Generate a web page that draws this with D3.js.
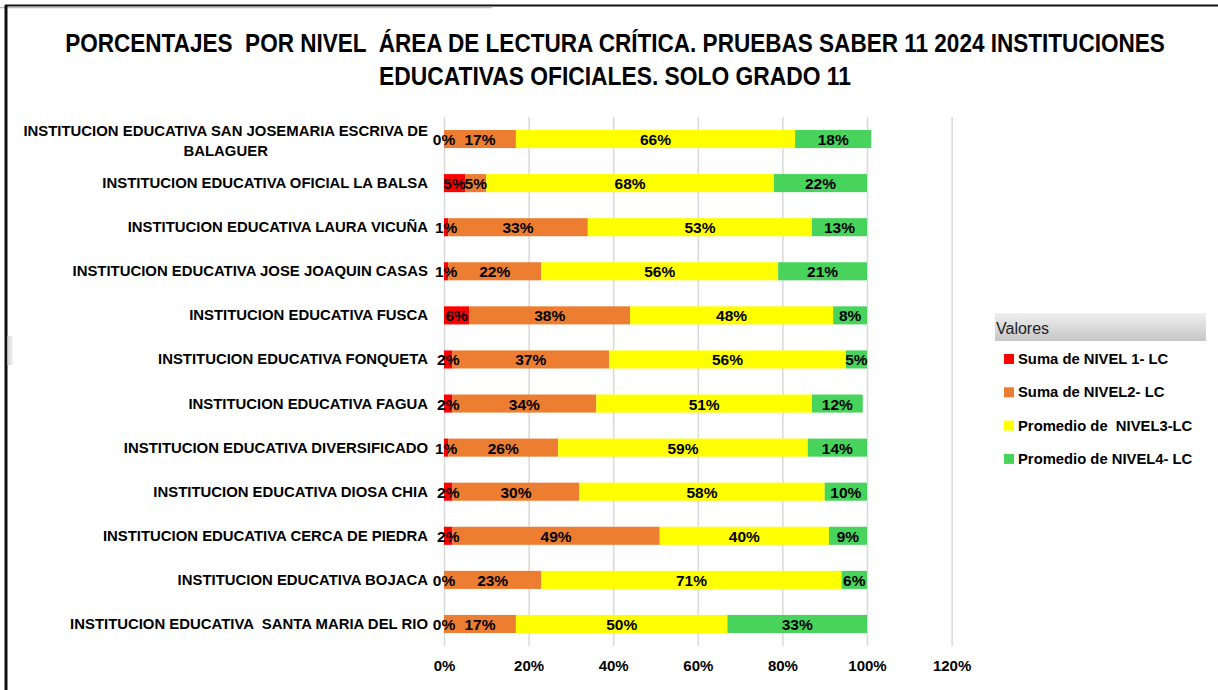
<!DOCTYPE html>
<html lang="es">
<head>
<meta charset="utf-8">
<title>Porcentajes por nivel - Lectura critica</title>
<style>
  body { margin: 0; background: #fff; }
  text { white-space: pre; }
  .title { font-family: "Liberation Sans", Arial, sans-serif; font-weight: bold; font-size: 25px; fill: #000; }
  .cat { font-family: "Liberation Sans", Arial, sans-serif; font-weight: bold; font-size: 14.9px; fill: #000; }
  .val { font-family: "Liberation Sans", Arial, sans-serif; font-weight: bold; font-size: 15.5px; fill: #000; }
  .tick text { font-family: "Liberation Sans", Arial, sans-serif; font-weight: bold; font-size: 15px; fill: #000; }
  .leg { font-family: "Liberation Sans", Arial, sans-serif; font-weight: bold; font-size: 14.8px; fill: #000; }
</style>
</head>
<body>
<div id="chart"></div>
<script src="https://cdnjs.cloudflare.com/ajax/libs/d3/7.8.5/d3.min.js"></script>
<script>
var categories = [
  "INSTITUCION EDUCATIVA SAN JOSEMARIA ESCRIVA DE|BALAGUER",
  "INSTITUCION EDUCATIVA OFICIAL LA BALSA",
  "INSTITUCION EDUCATIVA LAURA VICUÑA",
  "INSTITUCION EDUCATIVA JOSE JOAQUIN CASAS",
  "INSTITUCION EDUCATIVA FUSCA",
  "INSTITUCION EDUCATIVA FONQUETA",
  "INSTITUCION EDUCATIVA FAGUA",
  "INSTITUCION EDUCATIVA DIVERSIFICADO",
  "INSTITUCION EDUCATIVA DIOSA CHIA",
  "INSTITUCION EDUCATIVA CERCA DE PIEDRA",
  "INSTITUCION EDUCATIVA BOJACA",
  "INSTITUCION EDUCATIVA  SANTA MARIA DEL RIO"
];
var nivel1 = [0, 5, 1, 1, 6, 2, 2, 1, 2, 2, 0, 0];
var nivel2 = [17, 5, 33, 22, 38, 37, 34, 26, 30, 49, 23, 17];
var nivel3 = [66, 68, 53, 56, 48, 56, 51, 59, 58, 40, 71, 50];
var nivel4 = [18, 22, 13, 21, 8, 5, 12, 14, 10, 9, 6, 33];
var seriesNames = ["Suma de NIVEL 1- LC", "Suma de NIVEL2- LC", "Promedio de  NIVEL3-LC", "Promedio de NIVEL4- LC"];
var seriesColors = ["#ff0000", "#ed7d31", "#ffff00", "#48d35c"];
var xTicks = [0, 20, 40, 60, 80, 100, 120];
var titleLines = [
  "PORCENTAJES  POR NIVEL  ÁREA DE LECTURA CRÍTICA. PRUEBAS SABER 11 2024 INSTITUCIONES",
  "EDUCATIVAS OFICIALES. SOLO GRADO 11"
];

var W = 1218, H = 690;
var svg = d3.select("#chart").append("svg")
  .attr("width", W).attr("height", H);
var defs = svg.append("defs");

// frame
svg.append("line").attr("x1", 5).attr("x2", W).attr("y1", 5.5).attr("y2", 5.5)
  .attr("stroke", "#111").attr("stroke-width", 2);
svg.append("line").attr("x1", 0).attr("x2", 492).attr("y1", 7.5).attr("y2", 7.5)
  .attr("stroke", "#bbb").attr("stroke-width", 1.5);
svg.append("line").attr("x1", 6).attr("x2", 6).attr("y1", 5).attr("y2", H)
  .attr("stroke", "#111").attr("stroke-width", 3);
var sideGrad = defs.append("linearGradient").attr("id", "side")
  .attr("x1", 0).attr("x2", 1).attr("y1", 0).attr("y2", 0);
sideGrad.append("stop").attr("offset", "0%").attr("stop-color", "#d6d6d6");
sideGrad.append("stop").attr("offset", "100%").attr("stop-color", "#eeeeee");
svg.append("rect").attr("x", 7.5).attr("y", 336).attr("width", 5).attr("height", 29)
  .attr("fill", "url(#side)");

// title, squeezed horizontally like the narrow original font
var titleWidths = [1100, 472];
svg.selectAll("text.title").data(titleLines).enter().append("text")
  .attr("class", "title")
  .attr("text-anchor", "middle")
  .attr("x", 0)
  .attr("y", 0)
  .text(function(d) { return d; })
  .each(function(d, i) {
    var k = titleWidths[i] / this.getComputedTextLength();
    d3.select(this).attr("transform",
      "translate(615," + (52 + i * 33) + ") scale(" + k + ",1)");
  });

var x = d3.scaleLinear().domain([0, 120]).range([444, 951.6]);
var y = d3.scaleBand().domain(categories).range([117, 646])
  .paddingInner(0.59).paddingOuter(0.295);

// gridlines + axis labels
var xAxis = d3.axisBottom(x).tickValues(xTicks)
  .tickFormat(function(d) { return d + "%"; })
  .tickSize(-(646 - 117)).tickPadding(14);
var gx = svg.append("g").attr("transform", "translate(0,646)").call(xAxis);
gx.select(".domain").remove();
gx.selectAll(".tick line").attr("stroke", "#d9d9d9").attr("stroke-width", 1.5);

// stacked data
var rows = categories.map(function(c, i) {
  return { cat: c, vals: [nivel1[i], nivel2[i], nivel3[i], nivel4[i]] };
});
var segs = [];
rows.forEach(function(r) {
  var acc = 0;
  r.vals.forEach(function(v, k) {
    segs.push({ cat: r.cat, k: k, v: v, x0: acc, x1: acc + v });
    acc += v;
  });
});

svg.append("g").selectAll("rect").data(segs).enter().append("rect")
  .attr("x", function(d) { return x(d.x0); })
  .attr("y", function(d) { return y(d.cat); })
  .attr("width", function(d) { return x(d.x1) - x(d.x0); })
  .attr("height", y.bandwidth())
  .attr("fill", function(d) { return seriesColors[d.k]; });

svg.append("g").selectAll("text").data(segs).enter().append("text")
  .attr("class", "val")
  .attr("text-anchor", "middle")
  .attr("x", function(d) { return x((d.x0 + d.x1) / 2); })
  .attr("y", function(d) { return y(d.cat) + y.bandwidth() / 2 + 6; })
  .text(function(d) { return d.v + "%"; });

// category labels
var cats = svg.append("g").selectAll("text").data(categories).enter().append("text")
  .attr("class", "cat")
  .attr("text-anchor", "end")
  .attr("x", 428)
  .attr("y", function(d) { return y(d) + y.bandwidth() / 2 + 5; });
cats.each(function(d) {
  var parts = d.split("|");
  var t = d3.select(this);
  if (parts.length === 1) {
    t.text(d);
  } else {
    t.attr("y", y(d) + y.bandwidth() / 2 - 3);
    t.append("tspan").attr("x", 428).text(parts[0]);
    var w = this.getComputedTextLength();
    t.append("tspan").attr("x", 428 - w / 2).attr("dy", 20)
      .attr("text-anchor", "middle").text(parts[1]);
  }
});

// legend
var lg = svg.append("g");
var grad = defs.append("linearGradient").attr("id", "hdr")
  .attr("x1", 0).attr("x2", 0).attr("y1", 0).attr("y2", 1);
grad.append("stop").attr("offset", "0%").attr("stop-color", "#efefef");
grad.append("stop").attr("offset", "100%").attr("stop-color", "#c6c6c6");
lg.append("rect").attr("x", 995).attr("y", 313).attr("width", 211).attr("height", 28)
  .attr("fill", "url(#hdr)");
lg.append("text").attr("x", 996).attr("y", 334)
  .style("font-family", "'Liberation Sans', Arial, sans-serif").style("font-size", "16px")
  .attr("fill", "#222").text("Valores");
var items = lg.selectAll("g.item").data(seriesNames).enter().append("g")
  .attr("transform", function(d, i) { return "translate(1004," + (354 + i * 33.3) + ")"; });
items.append("rect").attr("width", 10).attr("height", 10)
  .attr("fill", function(d, i) { return seriesColors[i]; });
items.append("text").attr("class", "leg").attr("x", 14).attr("y", 10).text(function(d) { return d; });
</script>
</body>
</html>
